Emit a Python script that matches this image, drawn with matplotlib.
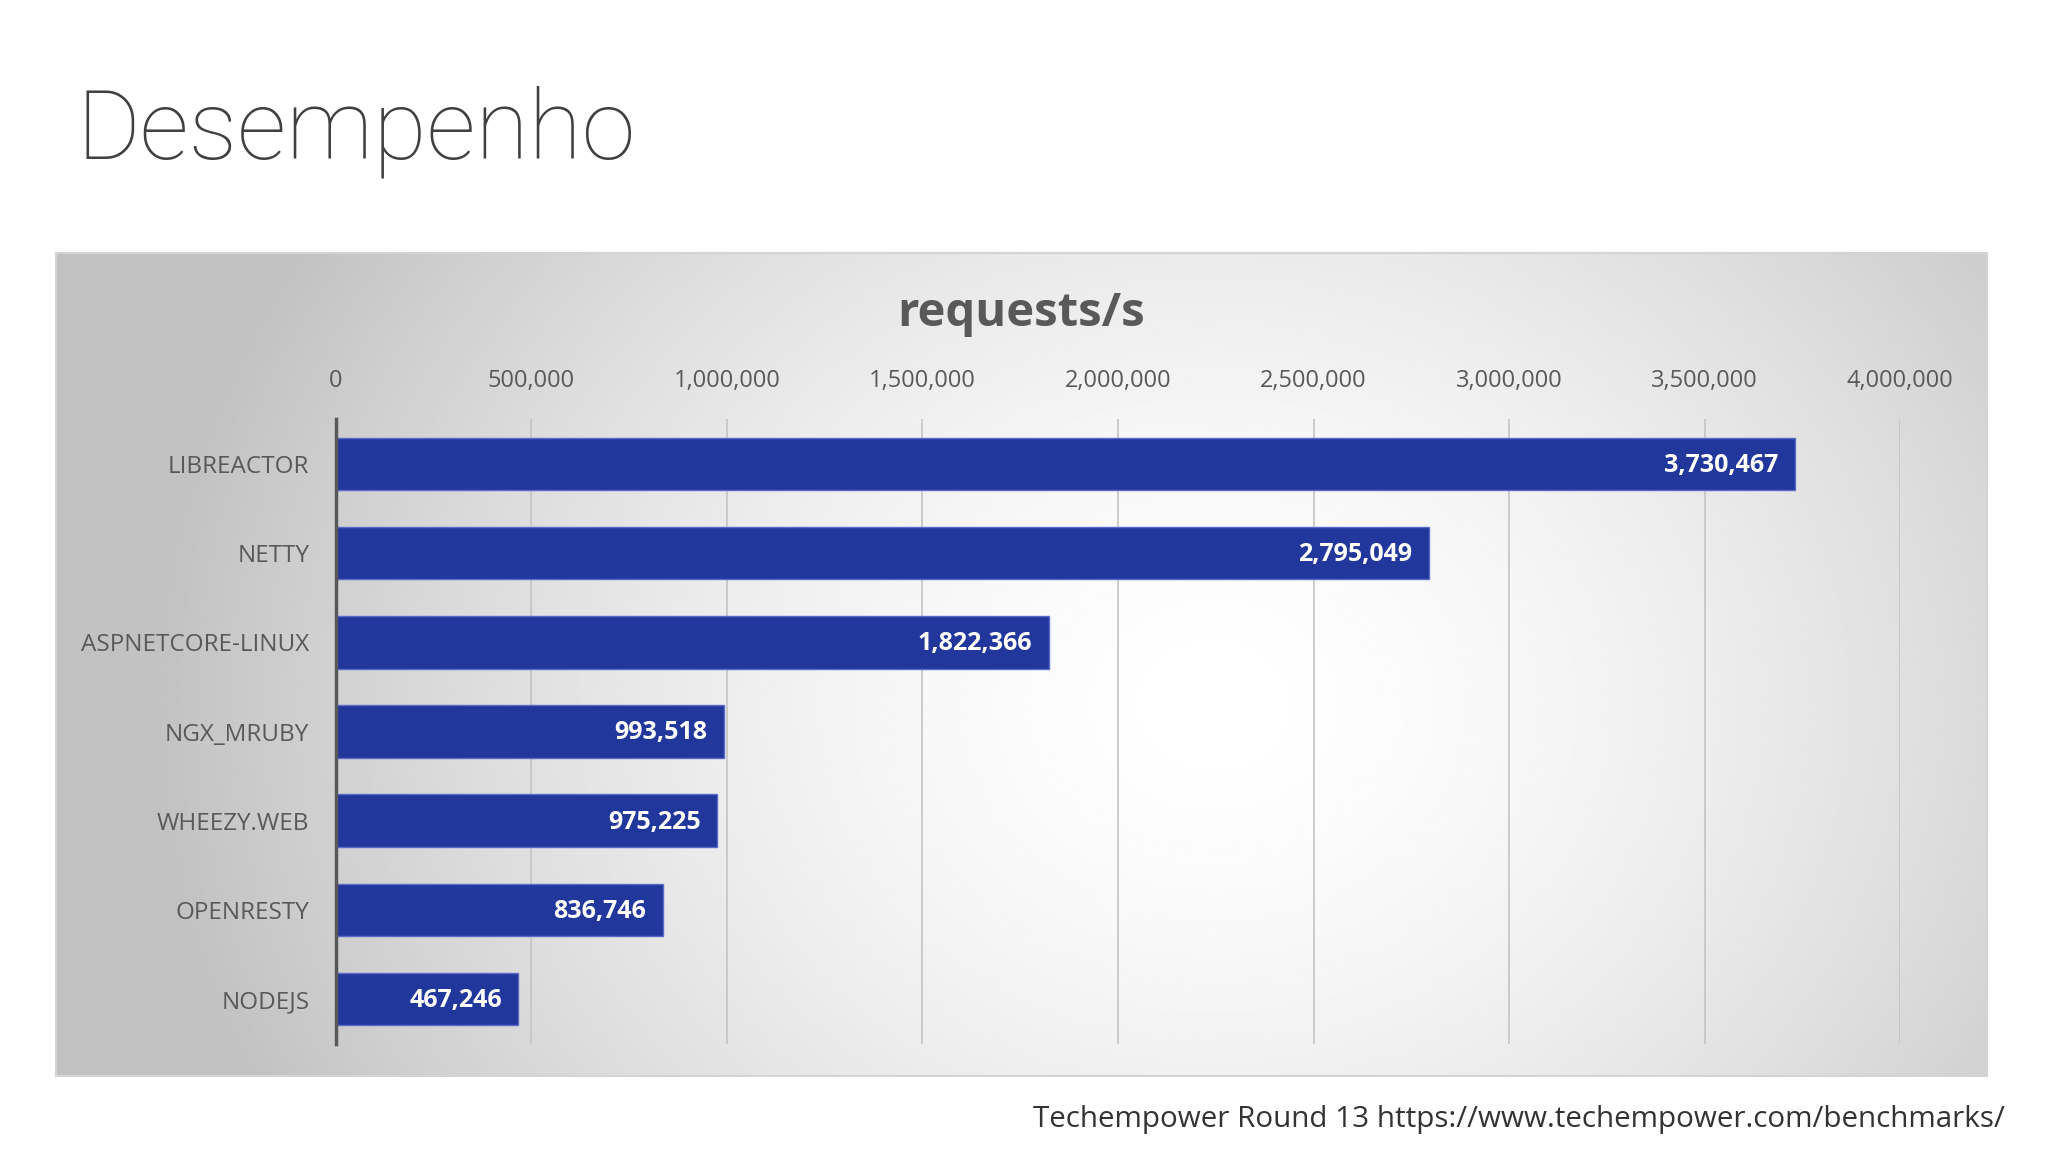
import numpy as np
import matplotlib
matplotlib.use('Agg')
import matplotlib.pyplot as plt
from matplotlib.ticker import FuncFormatter

# Techempower Round 13 - plaintext requests/s
frameworks = ['LIBREACTOR', 'NETTY', 'ASPNETCORE-LINUX', 'NGX_MRUBY',
              'WHEEZY.WEB', 'OPENRESTY', 'NODEJS']
requests = [3730467, 2795049, 1822366, 993518, 975225, 836746, 467246]
xticks = [0, 500000, 1000000, 1500000, 2000000, 2500000, 3000000, 3500000, 4000000]

plt.rcParams['font.family'] = ['Open Sans', 'DejaVu Sans']

fig = plt.figure(figsize=(20.48, 11.52), dpi=100)
fig.patch.set_facecolor('white')

# slide title
fig.text(0.0375, 0.862, 'Desempenho', fontsize=70, fontweight='light',
         family=['Roboto', 'DejaVu Sans'], color='#404040', ha='left', va='baseline')

# chart panel with radial gray gradient
bg = fig.add_axes([0.0274, 0.0658, 0.9426, 0.7142])
ny, nx = 300, 600
gx, gy = np.meshgrid(np.linspace(0, 1, nx), np.linspace(0, 1, ny))
d = np.sqrt(((gx - 0.6) / 0.55) ** 2 + ((gy - 0.55) / 1.1) ** 2)
shade = 1.0 - 0.24 * np.clip(d, 0, 1) ** 1.6
bg.imshow(shade, cmap='gray', vmin=0, vmax=1, aspect='auto',
          extent=[0, 1, 0, 1], interpolation='bilinear')
bg.set_xticks([])
bg.set_yticks([])
for s in bg.spines.values():
    s.set_color('#d4d4d4')
    s.set_linewidth(1.5)

fig.text(0.4987, 0.728, 'requests/s', fontsize=34, fontweight='bold',
         color='#595959', ha='center', va='center')

ax = fig.add_axes([0.1639, 0.094, 0.764, 0.542])
ax.patch.set_alpha(0)
y = np.arange(len(frameworks))
bars = ax.barh(y, requests, height=0.59, color='#22379b',
               edgecolor='#5a6cc8', linewidth=1, zorder=3)
ax.set_ylim(len(frameworks) - 0.5, -0.5)
ax.set_xlim(0, 4000000)
ax.set_xticks(xticks)
ax.xaxis.set_major_formatter(FuncFormatter(lambda v, p: f'{int(v):,}'))
ax.xaxis.tick_top()
ax.tick_params(axis='x', length=0, pad=19, labelsize=17, labelcolor='#595959')
ax.set_yticks(y)
ax.set_yticklabels(frameworks)
ax.tick_params(axis='y', length=0, pad=19, labelsize=17.5, labelcolor='#595959')
ax.grid(axis='x', color='#c4c4c4', linewidth=1.2, zorder=0)
ax.set_axisbelow(True)
for side in ['top', 'right', 'bottom']:
    ax.spines[side].set_visible(False)
ax.spines['left'].set_color('#595959')
ax.spines['left'].set_linewidth(2.5)
ax.spines['left'].set_zorder(4)

for b, v in zip(bars, requests):
    ax.annotate(f'{v:,}', (b.get_width(), b.get_y() + b.get_height() / 2),
                xytext=(-12, -1), textcoords='offset points', ha='right',
                va='center', color='white', fontsize=18, fontweight='bold',
                zorder=5)

fig.text(0.979, 0.0215, 'Techempower Round 13 https://www.techempower.com/benchmarks/',
         fontsize=21.3, color='#333333', ha='right', va='baseline')

fig.savefig('out.png', dpi=100, facecolor='white')
